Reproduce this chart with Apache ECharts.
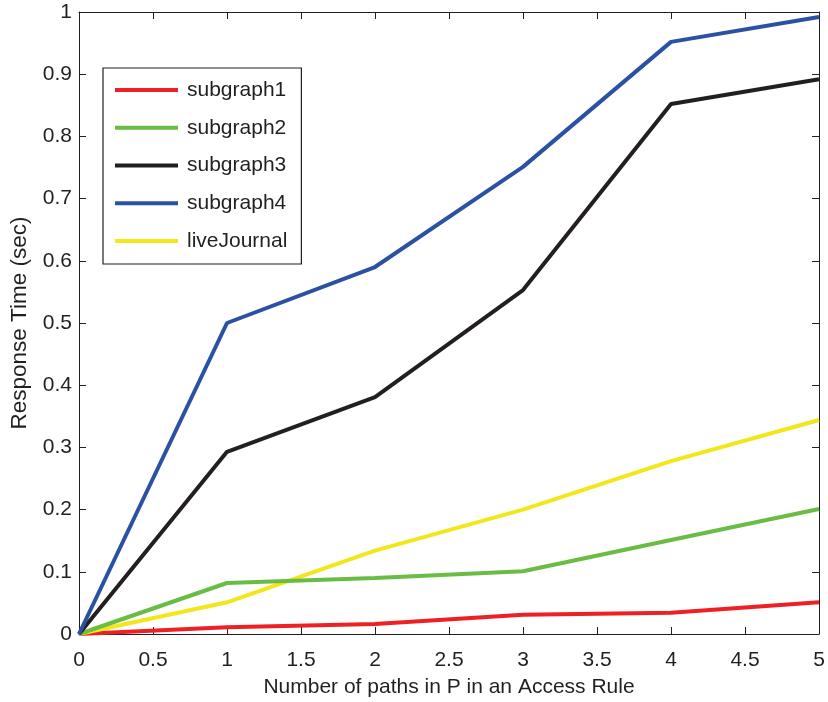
<!DOCTYPE html>
<html><head><meta charset="utf-8">
<script src="https://cdn.jsdelivr.net/npm/echarts@6/dist/echarts.min.js"></script>
<style>html,body{margin:0;padding:0;background:#fff}#c{width:828px;height:702px}</style>
</head><body><div id="c"></div>
<script>
const xValues = [0, 1, 2, 3, 4, 5];
const subgraph1 = [0, 0.011, 0.016, 0.031, 0.034, 0.051];
const subgraph2 = [0, 0.082, 0.090, 0.101, 0.151, 0.201];
const subgraph3 = [0, 0.293, 0.381, 0.553, 0.852, 0.892];
const subgraph4 = [0, 0.500, 0.590, 0.751, 0.952, 0.992];
const liveJournal = [0, 0.051, 0.134, 0.200, 0.278, 0.344];
const seriesNames = ['subgraph1', 'subgraph2', 'subgraph3', 'subgraph4', 'liveJournal'];
const seriesData = [subgraph1, subgraph2, subgraph3, subgraph4, liveJournal];
const colors = ['#ee2024', '#69bd45', '#231f20', '#2b51a3', '#f3e61a'];

const font = 'Liberation Sans, Arial, sans-serif';
const fs = 21;
const axisColor = '#231f20';
const chart = echarts.init(document.getElementById('c'));
const baseX = {
  type: 'value', min: 0, max: 5, interval: 0.5,
  axisLine: { show: true, onZero: false, lineStyle: { color: axisColor, width: 1 } },
  axisTick: { show: true, inside: true, length: 7, lineStyle: { color: axisColor } },
  splitLine: { show: false }
};
const baseY = {
  type: 'value', min: 0, max: 1, interval: 0.1,
  axisLine: { show: true, onZero: false, lineStyle: { color: axisColor, width: 1 } },
  axisTick: { show: true, inside: true, length: 7, lineStyle: { color: axisColor } },
  splitLine: { show: false }
};
chart.setOption({
  animation: false,
  backgroundColor: '#fff',
  grid: { left: 79, right: 9, top: 12, bottom: 68, containLabel: false, outerBoundsMode: 'none' },
  xAxis: [
    Object.assign({}, baseX, {
      position: 'bottom',
      name: 'Number of paths in P in an Access Rule', nameLocation: 'middle', nameGap: 43,
      nameTextStyle: { fontFamily: font, fontSize: fs, color: axisColor },
      axisLabel: { fontFamily: font, fontSize: fs, color: axisColor, margin: 16 }
    }),
    Object.assign({}, baseX, { position: 'top', axisLabel: { show: false } })
  ],
  yAxis: [
    Object.assign({}, baseY, {
      position: 'left',
      name: 'Response Time (sec)', nameLocation: 'middle', nameGap: 48,
      nameTextStyle: { fontFamily: font, fontSize: 22.5, color: axisColor },
      axisLabel: { fontFamily: font, fontSize: fs, color: axisColor, margin: 7,
        formatter: v => String(Math.round(v * 10) / 10) }
    }),
    Object.assign({}, baseY, { position: 'right', axisLabel: { show: false } })
  ],
  legend: {
    orient: 'vertical', left: 103, top: 68,
    data: seriesNames.map(n => ({ name: n, icon: 'rect' })),
    itemWidth: 63, itemHeight: 4, itemGap: 16.75,
    padding: [11.5, 14, 12.5, 12],
    borderColor: axisColor, borderWidth: 1.2, backgroundColor: '#fff',
    textStyle: { fontFamily: font, fontSize: fs, color: axisColor, padding: [0, 0, 0, 4] }
  },
  series: seriesNames.map((n, i) => ({
    name: n, type: 'line', xAxisIndex: 0, yAxisIndex: 0,
    data: xValues.map((x, j) => [x, seriesData[i][j]]),
    showSymbol: false, symbol: 'none',
    lineStyle: { color: colors[i], width: 4 },
    itemStyle: { color: colors[i] },
    z: 2 + (i === 4 ? 0 : i)
  }))
});
</script></body></html>
